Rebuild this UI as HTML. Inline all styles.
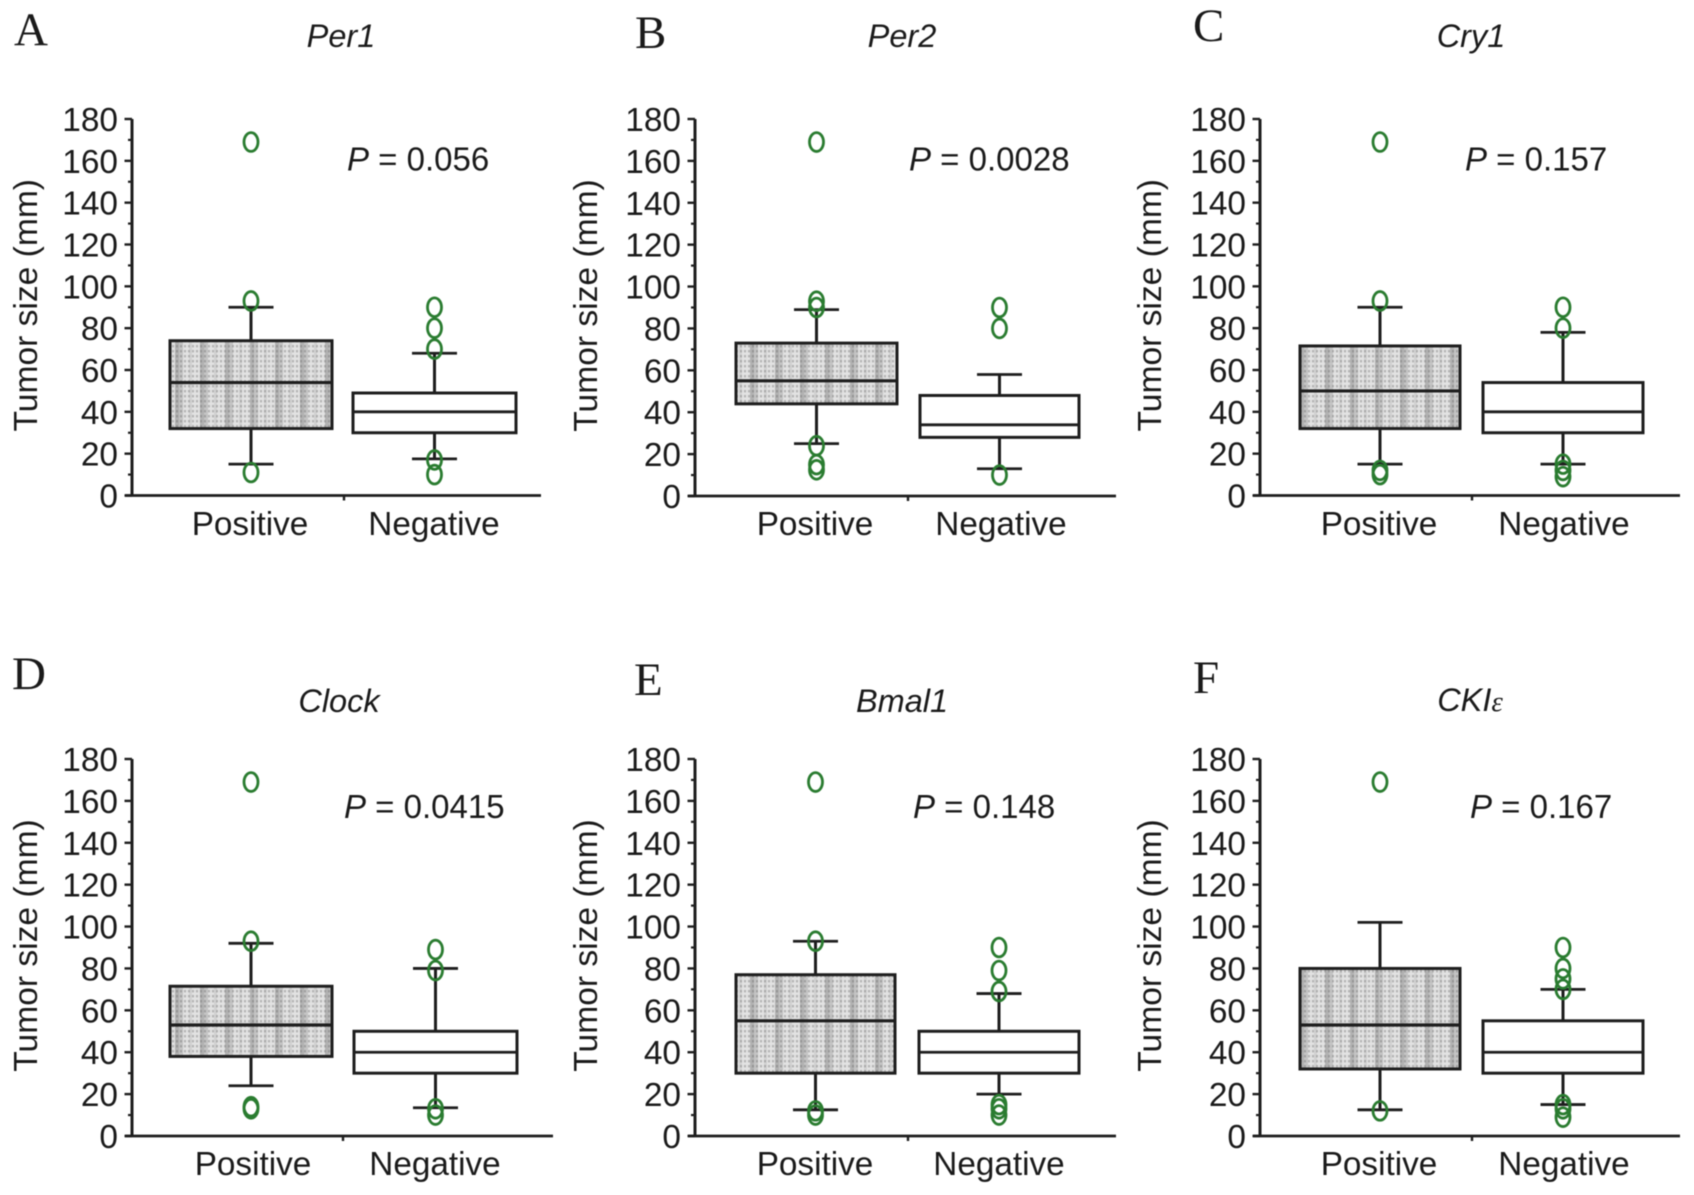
<!DOCTYPE html>
<html lang="en">
<head>
<meta charset="utf-8">
<title>Tumor size by gene expression</title>
<style>
html,body{margin:0;padding:0;background:#fff;width:1694px;height:1195px;overflow:hidden}
svg{display:block;filter:blur(0.55px)}
text{font-family:"Liberation Sans",sans-serif;fill:#1a1a1a}
</style>
</head>
<body>
<svg id="figure" xmlns="http://www.w3.org/2000/svg" width="1694" height="1195" viewBox="0 0 1694 1195">
<defs>
<pattern id="stripes" width="25" height="25" patternUnits="userSpaceOnUse">
<rect width="25" height="25" fill="#e2e2e2"/>
<rect x="0" width="4" height="25" fill="#b2b2b2"/>
<rect x="4" width="4" height="25" fill="#c4c4c4"/>
<rect x="14" width="3" height="25" fill="#d2d2d2"/>
</pattern>
<pattern id="dots" width="4" height="5" patternUnits="userSpaceOnUse">
<rect x="0" y="0" width="2" height="2.4" fill="#555" opacity="0.32"/>
</pattern>
</defs>
</svg>
<script>
const panelLetters = ['A','B','C','D','E','F'];
const geneNames = ['Per1','Per2','Cry1','Clock','Bmal1','CKI'];
const pValues = ['0.056','0.0028','0.157','0.0415','0.148','0.167'];
const categories = ['Positive','Negative'];
const yTicks = [0,20,40,60,80,100,120,140,160,180];
const yMinorTicks = [10,30,50,70,90,110,130,150,170];

const positiveLow = [15,25,15,24,12.5,12.5];
const positiveQ1 = [32,44,32,38,30,32];
const positiveMedian = [54,55,50,53,55,53];
const positiveQ3 = [74,73,71.5,71.5,77,80];
const positiveHigh = [90,89,90,92,93,102];
const positiveOutliers = [
  [169,93,11],
  [169,93,90,24,15,12.5],
  [169,93,12,10],
  [169,93,14,13],
  [169,93,12,10],
  [169,12]
];

const negativeLow = [17.5,13,15,13.5,20,15];
const negativeQ1 = [30,28,30,30,30,30];
const negativeMedian = [40,34,40,40,40,40];
const negativeQ3 = [49,48,54,50,50,55];
const negativeHigh = [68,58,78,80,68,70];
const negativeOutliers = [
  [90,80,70,17,10],
  [90,80,10],
  [90,80,15,12,9],
  [89,79,13,10],
  [90,79,69,15,13,10],
  [90,80,75,70,15,13,9]
];

/* layout only (pixels), separate from the data above */
const layoutAxisX = [132,695,1260,132,695,1260];
const layoutAxisEnd = [541,1116,1680,553,1116,1680];
const layoutY0 = [495.5,496,495.5,1136,1136,1136];
const layoutY180 = [119,119,119,759,759,759];
const layoutPosBox = [[170,332],[736,897],[1300,1460],[170,332],[736,895],[1300,1460]];
const layoutNegBox = [[353,516],[920,1079],[1483,1643],[354,517],[919,1079],[1483,1643]];
const layoutMid = [344,908,1472,343,908,1472];
const layoutTitleX = [341,902,1471,339,902,1470];
const layoutTitleY = [47,47,47,712,712,711];
const layoutLetterX = [14,635,1193,12,634,1193];
const layoutLetterY = [45,48,41,689,695,693];
const layoutPX = [347,909,1465,344,913,1470];
const layoutPY = [170.5,170.5,170.5,818,818,818];
const layoutCatX = [[250,434],[815,1001],[1379,1564],[253,435],[815,999],[1379,1564]];
const layoutCatY = [535,535,535,1175,1175,1175];
const layoutTitleAxisX = [37,597,1161,37,597,1161];

const SVG_NS = 'http://www.w3.org/2000/svg';
const figure = document.getElementById('figure');
const INK = '#1e1e1e';
const GREEN = '#2a7c30';

function make(tag, parent, attrs) {
  const el = document.createElementNS(SVG_NS, tag);
  for (const k in attrs) el.setAttribute(k, attrs[k]);
  parent.appendChild(el);
  return el;
}

function drawBox(group, yScale, box, low, q1, med, q3, high, outliers, shaded) {
  const cx = (box[0] + box[1]) / 2;
  const wh1 = make('line', group, {x1:cx, x2:cx, y1:yScale(high), y2:yScale(q3), stroke:INK, 'stroke-width':3});
  
  
  const wh2 = make('line', group, {x1:cx, x2:cx, y1:yScale(q1), y2:yScale(low), stroke:INK, 'stroke-width':3});
  
  
  const capHi = make('line', group, {x1:cx-22.5, x2:cx+22.5, y1:yScale(high), y2:yScale(high), stroke:INK, 'stroke-width':2.8});
  
  
  const capLo = make('line', group, {x1:cx-22.5, x2:cx+22.5, y1:yScale(low), y2:yScale(low), stroke:INK, 'stroke-width':2.8});
  
  
  const attrs = {x:box[0], y:yScale(q3), width:box[1]-box[0], height:yScale(q1)-yScale(q3)};
  if (shaded) {
    const base = make('rect', group, Object.assign({fill:'url(#stripes)'}, attrs));
    
    
    const dots = make('rect', group, Object.assign({fill:'url(#dots)'}, attrs));
    
    
  }
  const rect = make('rect', group, Object.assign({fill:shaded ? 'none' : '#fff', stroke:INK, 'stroke-width':3}, attrs));
  
  
  const medLine = make('line', group, {x1:box[0], x2:box[1], y1:yScale(med), y2:yScale(med), stroke:INK, 'stroke-width':shaded ? 3.2 : 2.8});
  
  
  outliers.forEach(function (v) {
    const o = make('ellipse', group, {cx:cx, cy:yScale(v), rx:7, ry:9.4, fill:'none', stroke:GREEN, 'stroke-width':2.8});
    
    
  });
}

panelLetters.forEach(function (letter, i) {
  const axisX = layoutAxisX[i], y0 = layoutY0[i], yTop = layoutY180[i];
  const yScale = function (v) { return y0 - (v / 180) * (y0 - yTop); };

  const g = make('g', figure, {});
  
  

  const letterText = make('text', g, {x:layoutLetterX[i], y:layoutLetterY[i], 'font-size':47, style:'font-family:"Liberation Serif",serif'});
  letterText.textContent = letter;
  
  

  const title = make('text', g, {x:layoutTitleX[i], y:layoutTitleY[i], 'font-size':32.5, 'font-style':'italic', 'text-anchor':'middle'});
  title.textContent = geneNames[i];
  if (geneNames[i] === 'CKI') {
    const eps = make('tspan', title, {'font-size':29, style:'font-family:"Liberation Serif",serif'});
    eps.textContent = '\u03B5';
  }
  
  

  const yTitle = make('text', g, {transform:'translate(' + layoutTitleAxisX[i] + ',' + ((y0 + yTop) / 2 - 2) + ') rotate(-90)', 'font-size':33.6, 'text-anchor':'middle'});
  yTitle.textContent = 'Tumor size (mm)';
  
  

  const yAxis = make('line', g, {x1:axisX, x2:axisX, y1:yTop, y2:y0, stroke:INK, 'stroke-width':3});
  
  
  const xAxis = make('line', g, {x1:axisX-7, x2:layoutAxisEnd[i], y1:y0, y2:y0, stroke:INK, 'stroke-width':2.8});
  
  
  const midTick = make('line', g, {x1:layoutMid[i], x2:layoutMid[i], y1:y0, y2:y0+5, stroke:INK, 'stroke-width':2.4});
  
  

  yTicks.forEach(function (v) {
    const t = make('line', g, {x1:axisX-7.5, x2:axisX, y1:yScale(v), y2:yScale(v), stroke:INK, 'stroke-width':2.4});
    
    
    const lab = make('text', g, {x:axisX-14, y:yScale(v)+12, 'font-size':33.4, 'text-anchor':'end'});
    lab.textContent = String(v);
    
    
  });
  yMinorTicks.forEach(function (v) {
    const t = make('line', g, {x1:axisX-4, x2:axisX, y1:yScale(v), y2:yScale(v), stroke:INK, 'stroke-width':2.2});
    
    
  });

  drawBox(g, yScale, layoutPosBox[i], positiveLow[i], positiveQ1[i], positiveMedian[i], positiveQ3[i], positiveHigh[i], positiveOutliers[i], true);
  drawBox(g, yScale, layoutNegBox[i], negativeLow[i], negativeQ1[i], negativeMedian[i], negativeQ3[i], negativeHigh[i], negativeOutliers[i], false);

  categories.forEach(function (c, k) {
    const lab = make('text', g, {x:layoutCatX[i][k], y:layoutCatY[i], 'font-size':33.3, 'text-anchor':'middle'});
    lab.textContent = c;
    
    
  });

  const pText = make('text', g, {x:layoutPX[i], y:layoutPY[i], 'font-size':33});
  const pItalic = make('tspan', pText, {'font-style':'italic'});
  pItalic.textContent = 'P';
  const pRest = make('tspan', pText, {});
  pRest.textContent = ' = ' + pValues[i];
  
  
});
</script>
</body>
</html>
